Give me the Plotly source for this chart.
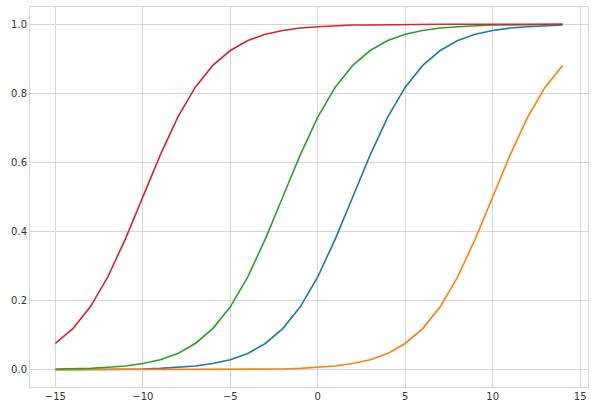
import plotly.graph_objects as go

x_vals = list(range(-15, 15))

blue = [0.000, 0.000, 0.001, 0.001, 0.001, 0.002, 0.004, 0.007, 0.011, 0.018,
        0.029, 0.047, 0.076, 0.119, 0.182, 0.269, 0.378, 0.500, 0.622, 0.731,
        0.818, 0.881, 0.924, 0.953, 0.971, 0.982, 0.989, 0.993, 0.996, 0.998]
orange = [0.000, 0.000, 0.000, 0.000, 0.000, 0.000, 0.000, 0.000, 0.000, 0.000,
          0.001, 0.001, 0.002, 0.002, 0.004, 0.007, 0.011, 0.018, 0.029, 0.047,
          0.076, 0.119, 0.182, 0.269, 0.378, 0.500, 0.622, 0.731, 0.818, 0.881]
green = [0.002, 0.002, 0.004, 0.007, 0.011, 0.018, 0.029, 0.047, 0.076, 0.119,
         0.182, 0.269, 0.378, 0.500, 0.622, 0.731, 0.818, 0.881, 0.924, 0.953,
         0.971, 0.982, 0.989, 0.993, 0.996, 0.998, 0.998, 0.999, 0.999, 1.000]
red = [0.076, 0.119, 0.182, 0.269, 0.378, 0.500, 0.622, 0.731, 0.818, 0.881,
       0.924, 0.953, 0.971, 0.982, 0.989, 0.993, 0.996, 0.998, 0.998, 0.999,
       0.999, 1.000, 1.000, 1.000, 1.000, 1.000, 1.000, 1.000, 1.000, 1.000]

series = [("blue", blue, "#1f77b4"), ("orange", orange, "#ff7f0e"),
          ("green", green, "#2ca02c"), ("red", red, "#d62728")]

fig = go.Figure()
for name, ys, col in series:
    fig.add_trace(go.Scatter(x=x_vals, y=ys, mode="lines", name=name,
                             line=dict(color=col, width=1.6)))

axis_common = dict(showgrid=True, gridcolor="#d5d5d5", gridwidth=1,
                   zeroline=False, showline=True, linecolor="#d5d5d5",
                   linewidth=1, mirror=True, ticks="", automargin=False,
                   ticklabeloverflow="allow",
                   tickfont=dict(family="DejaVu Sans", size=10, color="#333333"))

fig.update_layout(
    width=595, height=411,
    margin=dict(l=30, r=7, t=7, b=24),
    paper_bgcolor="white", plot_bgcolor="white",
    showlegend=False,
    xaxis=dict(range=[-16.45, 15.45], tickvals=[-15, -10, -5, 0, 5, 10, 15],
               ticktext=["\u221215", "\u221210", "\u22125", "0", "5", "10", "15"],
               **axis_common),
    yaxis=dict(range=[-0.05, 1.05], tickvals=[0, 0.2, 0.4, 0.6, 0.8, 1.0],
               ticktext=["0.0", "0.2", "0.4", "0.6", "0.8", "1.0"],
               **axis_common),
)

fig.write_html("out.html", config={"displayModeBar": False},
               post_script="document.body.style.margin='0';document.body.style.padding='0';")
